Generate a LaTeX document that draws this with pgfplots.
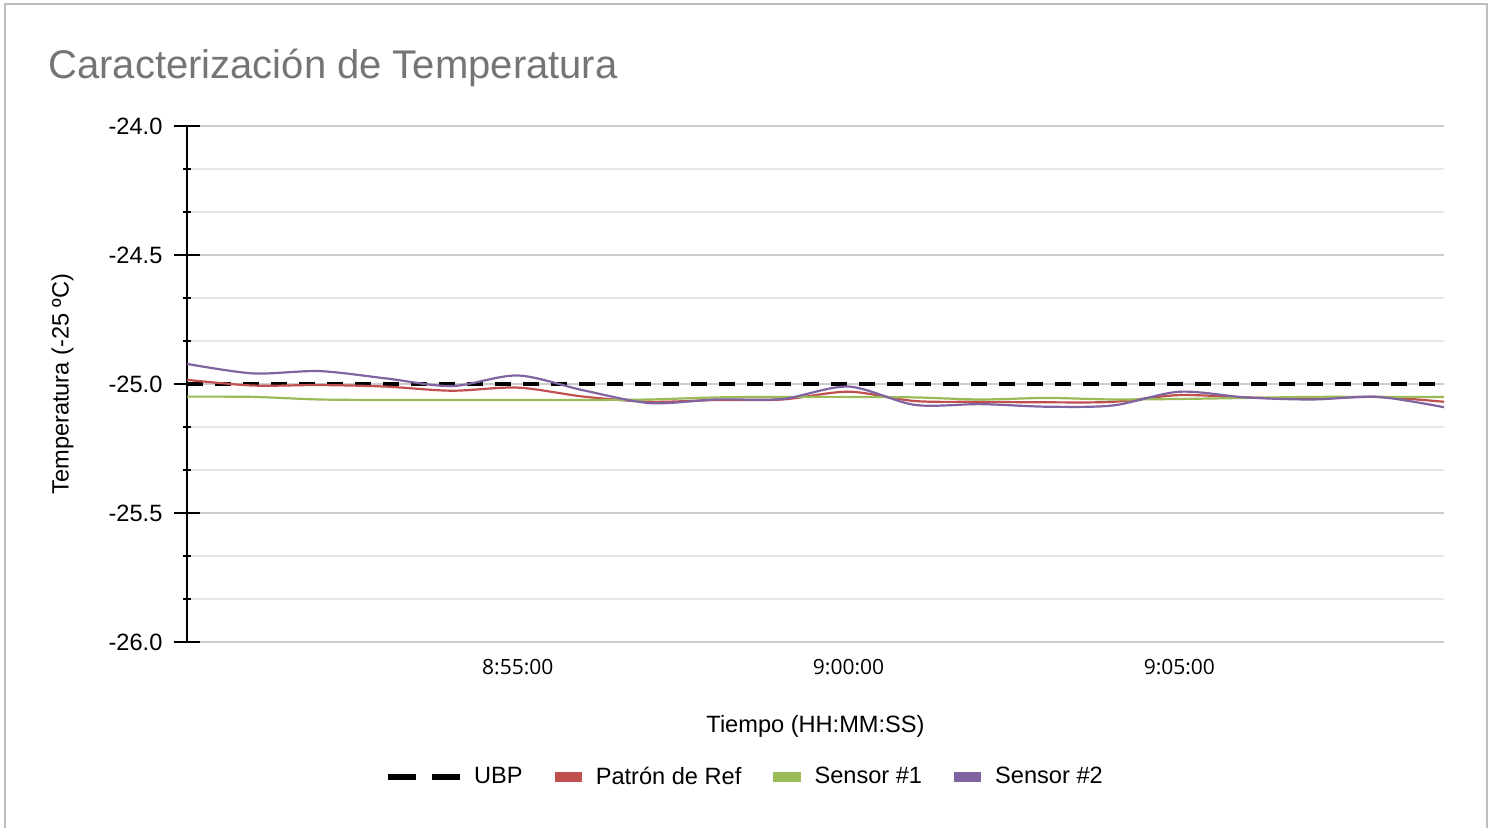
\documentclass[border=0pt]{standalone}
\usepackage{fontspec}
\setmainfont{Liberation Sans}
\newfontfamily\tickfont{Open Sans}
\usepackage{pgfplots}
\pgfplotsset{compat=1.18}
\definecolor{refred}{HTML}{C0504D}
\definecolor{sgreen}{HTML}{9BBB59}
\definecolor{spurple}{HTML}{8064A2}
\definecolor{titlegray}{HTML}{757575}
\definecolor{majgrid}{HTML}{CCCCCC}
\definecolor{mingrid}{HTML}{E6E6E6}
\definecolor{framegray}{HTML}{BDBDBD}

\begin{document}
\begin{tikzpicture}
% page is 1493x828 px at 0.5pt per px, origin at top left
\useasboundingbox (0pt,0pt) rectangle (746.5pt,-414pt);
\fill[white] (0pt,0pt) rectangle (746.5pt,-414pt);
\draw[framegray, line width=0.6pt] (2.5pt,-2pt) rectangle (743.5pt,-420pt);
\node[anchor=base west, font=\fontsize{20}{24}\selectfont, text=titlegray, inner sep=0pt]
  at (24pt,-39.5pt) {Caracterización de Temperatura};
\begin{axis}[
  at={(93.5pt,-321pt)}, anchor=south west,
  scale only axis, width=628.5pt, height=258pt,
  xmin=0, xmax=19, ymin=-26, ymax=-24,
  axis lines*=left,
  x axis line style={draw=none},
  y axis line style={black, line width=1pt},
  xtick={5,10,15}, xticklabels={8:55:00,9:00:00,9:05:00},
  xtick style={draw=none},
  xticklabel style={font=\tickfont\fontsize{10.5}{12}\selectfont, yshift=1pt},
  ytick={-26,-25.5,-25,-24.5,-24},
  yticklabels={-26.0,-25.5,-25.0,-24.5,-24.0},
  yticklabel style={font=\fontsize{11.8}{14}\selectfont, xshift=-2.5pt},
  minor y tick num=2,
  ymajorgrids, yminorgrids,
  major grid style={majgrid, line width=0.6pt},
  minor grid style={mingrid, line width=0.6pt},
  tick align=center, major tick length=12.5pt, minor tick length=4pt,
  ytick style={black, line width=0.8pt},
  minor y tick style={black, line width=0.8pt},
  xlabel={Tiempo (HH:MM:SS)},
  xlabel style={at={(0.5,-0.163)}, anchor=center, font=\fontsize{11.8}{14}\selectfont},
  ylabel={Temperatura (-25 ºC)},
  ylabel style={at={(-0.099,0.5)}, anchor=center, font=\fontsize{11.8}{14}\selectfont},
  legend columns=-1,
  legend style={at={(0.4447,-0.2616)}, anchor=center, draw=none, fill=none,
    font=\fontsize{11.8}{14}\selectfont,
    /tikz/every even column/.append style={column sep=14pt}},
  every axis plot/.append style={smooth, tension=0.5, no markers},
]
\addplot[black, line width=2pt, dash pattern=on 8pt off 6pt, sharp plot,
  legend image code/.code={
    \draw[black, solid, line width=3pt] (0pt,0pt) -- (14pt,0pt);
    \draw[black, solid, line width=3pt] (22pt,0pt) -- (36pt,0pt);
    \path[draw=none, fill=none] (36pt,0pt) rectangle (41pt,0.1pt);}]
  coordinates {(0,-25) (19,-25)};
\addlegendentry{UBP}

\addplot[refred, line width=1.1pt,
  legend image code/.code={\fill[refred] (0pt,-1.75pt) rectangle (12.5pt,1.75pt);
    \path[draw=none, fill=none] (12.5pt,0pt) rectangle (18pt,0.1pt);}]
  coordinates {
  (0,-24.984) (1,-25.006) (2,-25.004) (3,-25.010) (4,-25.026)
  (5,-25.014) (6,-25.049) (7,-25.069) (8,-25.062) (9,-25.060)
  (10,-25.030) (11,-25.066) (12,-25.069) (13,-25.071) (14,-25.069)
  (15,-25.043) (16,-25.052) (17,-25.056) (18,-25.050) (19,-25.069)};
\addlegendentry{Patrón de Ref}

\addplot[sgreen, line width=1.1pt,
  legend image code/.code={\fill[sgreen] (0pt,-1.75pt) rectangle (12.5pt,1.75pt);
    \path[draw=none, fill=none] (12.5pt,0pt) rectangle (18pt,0.1pt);}]
  coordinates {
  (0,-25.049) (1,-25.050) (2,-25.060) (3,-25.062) (4,-25.062)
  (5,-25.062) (6,-25.062) (7,-25.060) (8,-25.052) (9,-25.050)
  (10,-25.050) (11,-25.052) (12,-25.060) (13,-25.054) (14,-25.060)
  (15,-25.058) (16,-25.054) (17,-25.050) (18,-25.050) (19,-25.050)};
\addlegendentry{Sensor \#1}

\addplot[spurple, line width=1.1pt,
  legend image code/.code={\fill[spurple] (0pt,-1.75pt) rectangle (12.5pt,1.75pt);
    \path[draw=none, fill=none] (12.5pt,0pt) rectangle (18pt,0.1pt);}]
  coordinates {
  (0,-24.922) (1,-24.959) (2,-24.950) (3,-24.978) (4,-25.008)
  (5,-24.967) (6,-25.025) (7,-25.074) (8,-25.060) (9,-25.058)
  (10,-25.010) (11,-25.081) (12,-25.078) (13,-25.088) (14,-25.083)
  (15,-25.030) (16,-25.052) (17,-25.060) (18,-25.050) (19,-25.090)};
\addlegendentry{Sensor \#2}
\end{axis}
\end{tikzpicture}
\end{document}
